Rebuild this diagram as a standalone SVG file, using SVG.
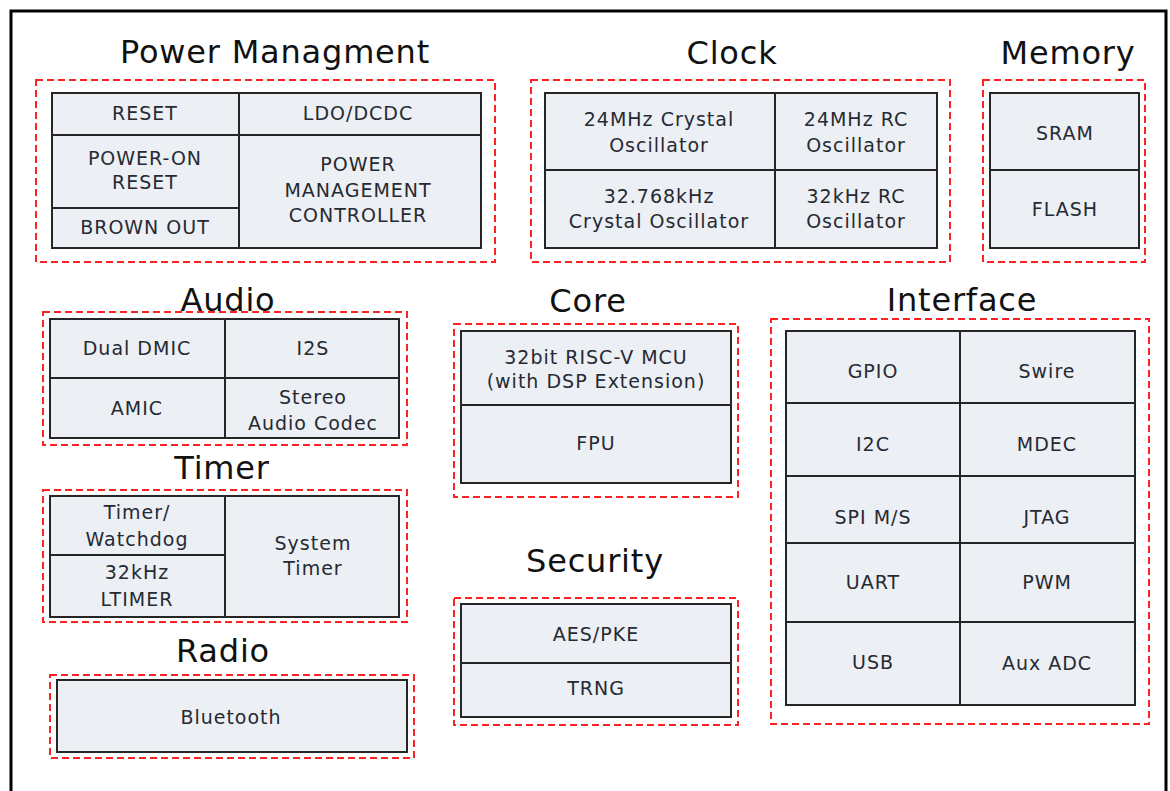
<svg xmlns="http://www.w3.org/2000/svg" width="1170" height="791" viewBox="0 0 1170 791">
<style>
.frame{fill:#fff;stroke:#000;stroke-width:3}
.grp{fill:none;stroke:#f22;stroke-width:2;stroke-dasharray:7 4}
.cell{fill:#eceff4;stroke:#262626;stroke-width:2}
.title{font-family:"DejaVu Sans",sans-serif;font-size:32px;fill:#111;text-anchor:middle;letter-spacing:0.8px}
.lbl{font-family:"DejaVu Sans",sans-serif;font-size:19px;fill:#262a33;text-anchor:middle;letter-spacing:1px}
</style>
<rect class="frame" x="11" y="11" width="1155" height="800"/>

<g id="power">
<rect class="grp" x="36" y="80" width="459" height="182"/>
<g id="reset"><rect class="cell" x="52" y="93" width="187" height="42"/><text class="lbl" x="145" y="120">RESET</text></g>
<g id="ldo"><rect class="cell" x="239" y="93" width="242" height="42"/><text class="lbl" x="358" y="120">LDO/DCDC</text></g>
<g id="por"><rect class="cell" x="52" y="135" width="187" height="73"/><text class="lbl" x="145" y="165">POWER-ON</text><text class="lbl" x="145" y="189">RESET</text></g>
<g id="brownout"><rect class="cell" x="52" y="208" width="187" height="40"/><text class="lbl" x="145" y="234">BROWN OUT</text></g>
<g id="pmc"><rect class="cell" x="239" y="135" width="242" height="113"/><text class="lbl" x="358" y="171">POWER</text><text class="lbl" x="358" y="197">MANAGEMENT</text><text class="lbl" x="358" y="222">CONTROLLER</text></g>
<text class="title" x="275" y="63">Power Managment</text>
</g>

<g id="clock">
<rect class="grp" x="531" y="80" width="419" height="182"/>
<g id="xtal24"><rect class="cell" x="545" y="93" width="230" height="77"/><text class="lbl" x="659" y="126">24MHz Crystal</text><text class="lbl" x="659" y="152">Oscillator</text></g>
<g id="rc24"><rect class="cell" x="775" y="93" width="162" height="77"/><text class="lbl" x="856" y="126">24MHz RC</text><text class="lbl" x="856" y="152">Oscillator</text></g>
<g id="xtal32"><rect class="cell" x="545" y="170" width="230" height="78"/><text class="lbl" x="659" y="203">32.768kHz</text><text class="lbl" x="659" y="228">Crystal Oscillator</text></g>
<g id="rc32"><rect class="cell" x="775" y="170" width="162" height="78"/><text class="lbl" x="856" y="203">32kHz RC</text><text class="lbl" x="856" y="228">Oscillator</text></g>
<text class="title" x="732" y="64">Clock</text>
</g>

<g id="memory">
<rect class="grp" x="983" y="80" width="162" height="182"/>
<g id="sram"><rect class="cell" x="990" y="93" width="149" height="77"/><text class="lbl" x="1065" y="140">SRAM</text></g>
<g id="flash"><rect class="cell" x="990" y="170" width="149" height="78"/><text class="lbl" x="1065" y="216">FLASH</text></g>
<text class="title" x="1068" y="64">Memory</text>
</g>

<g id="audio">
<rect class="grp" x="43" y="312" width="364" height="133"/>
<g id="dmic"><rect class="cell" x="50" y="319" width="175" height="59"/><text class="lbl" x="137" y="355">Dual DMIC</text></g>
<g id="i2s"><rect class="cell" x="225" y="319" width="174" height="59"/><text class="lbl" x="313" y="355">I2S</text></g>
<g id="amic"><rect class="cell" x="50" y="378" width="175" height="60"/><text class="lbl" x="137" y="415">AMIC</text></g>
<g id="codec"><rect class="cell" x="225" y="378" width="174" height="60"/><text class="lbl" x="313" y="404">Stereo</text><text class="lbl" x="313" y="430">Audio Codec</text></g>
<text class="title" x="228" y="311">Audio</text>
</g>

<g id="timer">
<rect class="grp" x="43" y="490" width="364" height="132"/>
<g id="watchdog"><rect class="cell" x="50" y="496" width="175" height="59"/><text class="lbl" x="137" y="519">Timer/</text><text class="lbl" x="137" y="546">Watchdog</text></g>
<g id="ltimer"><rect class="cell" x="50" y="555" width="175" height="62"/><text class="lbl" x="137" y="579">32kHz</text><text class="lbl" x="137" y="606">LTIMER</text></g>
<g id="systimer"><rect class="cell" x="225" y="496" width="174" height="121"/><text class="lbl" x="313" y="550">System</text><text class="lbl" x="313" y="575">Timer</text></g>
<text class="title" x="222" y="479">Timer</text>
</g>

<g id="radio">
<rect class="grp" x="50" y="675" width="364" height="83"/>
<g id="bluetooth"><rect class="cell" x="57" y="680" width="350" height="72"/><text class="lbl" x="231" y="724">Bluetooth</text></g>
<text class="title" x="223" y="662">Radio</text>
</g>

<g id="core">
<rect class="grp" x="454" y="324" width="284" height="173"/>
<g id="mcu"><rect class="cell" x="461" y="331" width="270" height="74"/><text class="lbl" x="596" y="364">32bit RISC-V MCU</text><text class="lbl" x="596" y="388">(with DSP Extension)</text></g>
<g id="fpu"><rect class="cell" x="461" y="405" width="270" height="78"/><text class="lbl" x="596" y="450">FPU</text></g>
<text class="title" x="588" y="312">Core</text>
</g>

<g id="security">
<rect class="grp" x="454" y="598" width="284" height="127"/>
<g id="aes"><rect class="cell" x="461" y="604" width="270" height="59"/><text class="lbl" x="596" y="641">AES/PKE</text></g>
<g id="trng"><rect class="cell" x="461" y="663" width="270" height="54"/><text class="lbl" x="596" y="695">TRNG</text></g>
<text class="title" x="595" y="572">Security</text>
</g>

<g id="interface">
<rect class="grp" x="771" y="319" width="378" height="405"/>
<g id="gpio"><rect class="cell" x="786" y="331" width="174" height="72"/><text class="lbl" x="873" y="378">GPIO</text></g>
<g id="swire"><rect class="cell" x="960" y="331" width="175" height="72"/><text class="lbl" x="1047" y="378">Swire</text></g>
<g id="i2c"><rect class="cell" x="786" y="403" width="174" height="73"/><text class="lbl" x="873" y="451">I2C</text></g>
<g id="mdec"><rect class="cell" x="960" y="403" width="175" height="73"/><text class="lbl" x="1047" y="451">MDEC</text></g>
<g id="spi"><rect class="cell" x="786" y="476" width="174" height="67"/><text class="lbl" x="873" y="524">SPI M/S</text></g>
<g id="jtag"><rect class="cell" x="960" y="476" width="175" height="67"/><text class="lbl" x="1047" y="524">JTAG</text></g>
<g id="uart"><rect class="cell" x="786" y="543" width="174" height="79"/><text class="lbl" x="873" y="589">UART</text></g>
<g id="pwm"><rect class="cell" x="960" y="543" width="175" height="79"/><text class="lbl" x="1047" y="589">PWM</text></g>
<g id="usb"><rect class="cell" x="786" y="622" width="174" height="83"/><text class="lbl" x="873" y="669">USB</text></g>
<g id="auxadc"><rect class="cell" x="960" y="622" width="175" height="83"/><text class="lbl" x="1047" y="670">Aux ADC</text></g>
<text class="title" x="962" y="311">Interface</text>
</g>

<g id="connectors"/>
</svg>
